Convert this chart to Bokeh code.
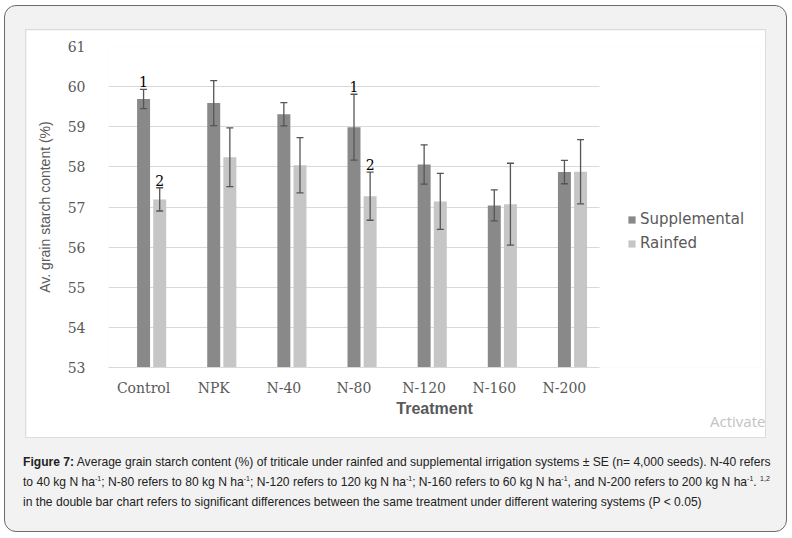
from bokeh.plotting import figure
from bokeh.models import (ColumnDataSource, Range1d, Whisker, TeeHead, FixedTicker,
                          Legend, LegendItem, Div)
from bokeh.transform import dodge
from bokeh.layouts import column
from bokeh.core.properties import value
from bokeh.embed import file_html
from bokeh.resources import INLINE

# ---- data ----
treatments = ["Control", "NPK", "N-40", "N-80", "N-120", "N-160", "N-200"]
supplemental = [59.69, 59.59, 59.31, 58.99, 58.06, 57.04, 57.87]
supplemental_se = [0.24, 0.56, 0.29, 0.82, 0.49, 0.385, 0.29]
rainfed = [57.19, 58.24, 58.04, 57.27, 57.14, 57.07, 57.88]
rainfed_se = [0.29, 0.73, 0.69, 0.60, 0.70, 1.02, 0.80]
supplemental_sig = ["1", "", "", "1", "", "", ""]
rainfed_sig = ["2", "", "", "2", "", "", ""]
y_ticks = [53, 54, 55, 56, 57, 58, 59, 60, 61]
series_names = ["Supplemental", "Rainfed"]

SUPP_COLOR = "#898989"
RAIN_COLOR = "#c6c6c6"
ERR_COLOR = "#555555"
TXT = "#595959"

n = len(treatments)
centers = [i + 0.5 for i in range(n)]

src_s = ColumnDataSource(dict(
    x=centers, v=supplemental,
    up=[m + s for m, s in zip(supplemental, supplemental_se)],
    lo=[m - s for m, s in zip(supplemental, supplemental_se)],
    sig=supplemental_sig))
src_r = ColumnDataSource(dict(
    x=centers, v=rainfed,
    up=[m + s for m, s in zip(rainfed, rainfed_se)],
    lo=[m - s for m, s in zip(rainfed, rainfed_se)],
    sig=rainfed_sig))

# frame: 491 px for the 7 categories, extra room on the right for the legend
X_END = n * 652 / 491
p = figure(width=739, height=407,
           x_range=Range1d(0, X_END),
           y_range=Range1d(y_ticks[0], y_ticks[-1]),
           output_backend="svg", toolbar_location=None,
           min_border_left=82, min_border_right=5,
           min_border_top=16, min_border_bottom=70,
           background_fill_color="white", border_fill_color="white",
           outline_line_color=None)
p.margin = (24, 21, 0, 21)
p.styles = {"outline": "1px solid #dcdcdc"}

offsets = [0.0, 0.23]
bar_w = 0.185
r_s = p.vbar(x=dodge("x", offsets[0]), top="v", bottom=y_ticks[0],
             width=bar_w, source=src_s, fill_color=SUPP_COLOR, line_color=None)
r_r = p.vbar(x=dodge("x", offsets[1]), top="v", bottom=y_ticks[0],
             width=bar_w, source=src_r, fill_color=RAIN_COLOR, line_color=None)

for src, off in ((src_s, offsets[0]), (src_r, offsets[1])):
    w = Whisker(base=dodge("x", off), upper="up", lower="lo",
                source=src, line_color=ERR_COLOR, line_width=1.3, level="overlay",
                upper_head=TeeHead(size=7, line_color=ERR_COLOR, line_width=1.3),
                lower_head=TeeHead(size=7, line_color=ERR_COLOR, line_width=1.3))
    p.add_layout(w)
    p.text(x=dodge("x", off), y="up", text="sig", source=src,
           text_align="center", text_baseline="bottom", y_offset=-2,
           text_font=value("DejaVu Serif"), text_font_size="14px", text_color="black")

# axes
p.yaxis.ticker = y_ticks
p.yaxis.axis_line_color = None
p.yaxis.major_tick_line_color = None
p.yaxis.minor_tick_line_color = None
p.yaxis.major_label_standoff = 17
p.yaxis.major_label_text_font = "DejaVu Serif"
p.yaxis.major_label_text_font_size = "14px"
p.yaxis.major_label_text_color = TXT
p.yaxis.axis_label = "Av. grain starch content (%)"
p.yaxis.axis_label_text_font = "Liberation Sans"
p.yaxis.axis_label_text_font_style = "normal"
p.yaxis.axis_label_text_font_size = "14px"
p.yaxis.axis_label_text_color = TXT
p.yaxis.axis_label_standoff = 12

p.xaxis.ticker = FixedTicker(ticks=centers)
p.xaxis.major_label_overrides = {c: t for c, t in zip(centers, treatments)}
p.xaxis.bounds = (0, n)
p.xaxis.axis_line_color = "#d9d9d9"
p.xaxis.major_tick_line_color = None
p.xaxis.minor_tick_line_color = None
p.xaxis.major_label_standoff = 6
p.xaxis.major_label_text_font = "DejaVu Serif"
p.xaxis.major_label_text_font_size = "14px"
p.xaxis.major_label_text_color = TXT
p.xaxis.axis_label = "Treatment"
p.xaxis.axis_label_text_font = "Liberation Sans"
p.xaxis.axis_label_text_font_style = "bold"
p.xaxis.axis_label_text_font_size = "16px"
p.xaxis.axis_label_text_color = TXT
p.xaxis.axis_label_standoff = 1

p.xgrid.grid_line_color = None
p.ygrid.grid_line_color = "#d9d9d9"
p.ygrid.grid_line_width = 1
try:
    p.ygrid.cross_bounds = (0, n)
except Exception:
    pass

legend = Legend(items=[LegendItem(label=series_names[0], renderers=[r_s]),
                       LegendItem(label=series_names[1], renderers=[r_r])],
                location=(519, 115), orientation="vertical", margin=0, padding=0,
                border_line_color=None, background_fill_alpha=0,
                glyph_width=9, glyph_height=9, label_standoff=4,
                label_height=18, spacing=6,
                label_text_font="DejaVu Sans", label_text_font_size="15px",
                label_text_color=TXT)
p.add_layout(legend, "center")

sup = '<sup style="font-size:7px;line-height:0;vertical-align:5px">%s</sup>'
caption = (
    '<div style="position:relative;font-family:\'Liberation Sans\',Arial,sans-serif;'
    'font-size:12.1px;line-height:20px;color:#222;white-space:nowrap;">'
    '<span style="position:absolute;left:687px;top:-40px;font-family:\'Open Sans\',sans-serif;'
    'font-size:15px;line-height:18px;color:#c2c2c2;">Activate</span>'
    '<b>Figure 7:</b> Average grain starch content (%) of triticale under rainfed and supplemental '
    'irrigation systems &plusmn; SE (n= 4,000 seeds). N-40 refers<br>'
    'to 40 kg N ha' + sup % '-1' + '; N-80 refers to 80 kg N ha' + sup % '-1' + '; '
    'N-120 refers to 120 kg N ha' + sup % '-1' + '; N-160 refers to 60 kg N ha' + sup % '-1' + ', '
    'and N-200 refers to 200 kg N ha' + sup % '-1' + '. ' + sup % '1,2' + '<br>'
    'in the double bar chart refers to significant differences between the same treatment under '
    'different watering systems (P &lt; 0.05)'
    '</div>')
div = Div(text=caption, width=750, height=62)
div.margin = (15, 12, 17, 18)

layout = column(p, div, styles={"background-color": "#f2f2f2",
                                "border": "1px solid #6b6b6b",
                                "border-radius": "12px"})
layout.margin = (5, 0, 0, 4)

open("out.html", "w").write(file_html(layout, INLINE))
